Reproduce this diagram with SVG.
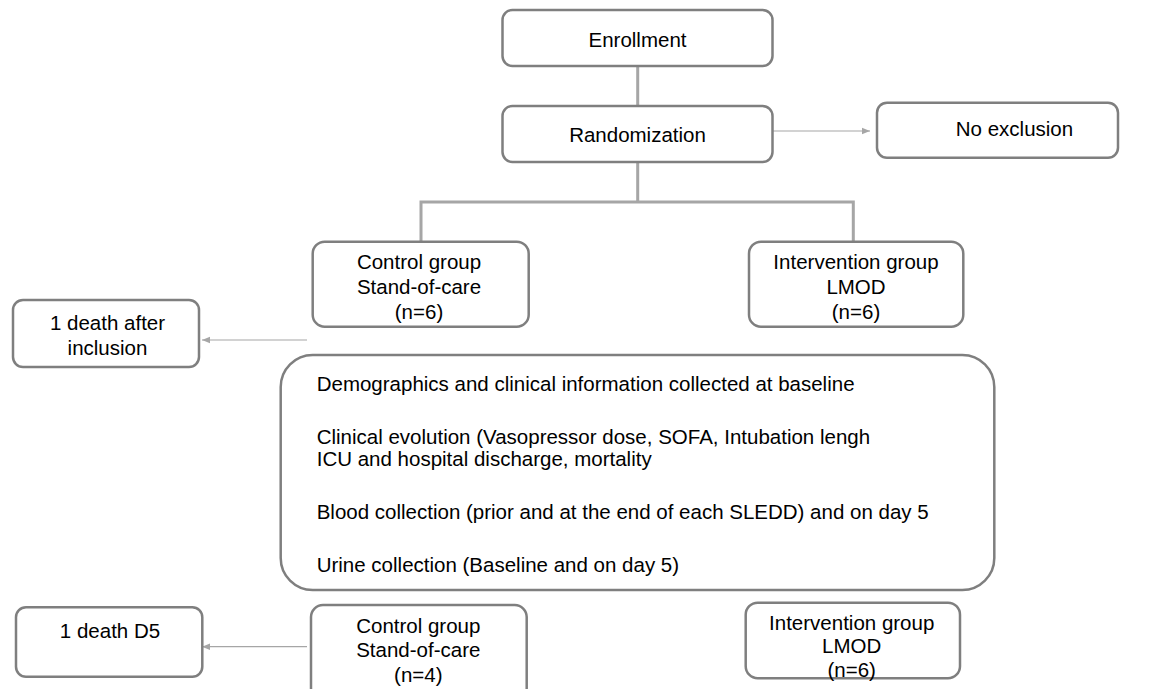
<svg xmlns="http://www.w3.org/2000/svg" width="1151" height="689" viewBox="0 0 1151 689">
<style>
.box{fill:#ffffff;stroke:#7f7f7f;stroke-width:2.5}
.t{font-family:"Liberation Sans",Arial,sans-serif;font-size:20.5px;fill:#000000}
.c{text-anchor:middle}
.thick{fill:none;stroke:#a6a6a6;stroke-width:3}
.thin{fill:none;stroke:#a6a6a6;stroke-width:1.2}
</style>
<defs>
<marker id="ah" viewBox="0 0 10 10" refX="10" refY="5" markerWidth="8" markerHeight="8" markerUnits="userSpaceOnUse" orient="auto">
<path d="M0,1 L10,5 L0,9 Z" fill="#a6a6a6"/>
</marker>
</defs>
<rect width="1151" height="689" fill="#ffffff"/>
<g id="connectors">
<line class="thick" x1="637.7" y1="66" x2="637.7" y2="106"/>
<path class="thick" d="M637.7,162 V202 M421,241.7 V202 H853.3 V241.7"/>
<line class="thin" x1="773" y1="131" x2="870" y2="131" marker-end="url(#ah)"/>
<line class="thin" x1="307" y1="340" x2="202" y2="340" marker-end="url(#ah)"/>
<line class="thin" x1="307" y1="646.7" x2="202" y2="646.7" marker-end="url(#ah)"/>
</g>
<g id="enrollment">
<rect class="box" x="502.5" y="10" width="270" height="56" rx="10"/>
<text class="t c" x="637.5" y="46.5">Enrollment</text>
</g>
<g id="randomization">
<rect class="box" x="502.5" y="106" width="270" height="56" rx="10"/>
<text class="t c" x="637.5" y="141.7">Randomization</text>
</g>
<g id="no-exclusion">
<rect class="box" x="877" y="102.7" width="241" height="55" rx="10"/>
<text class="t c" x="1014.5" y="136">No exclusion</text>
</g>
<g id="control1">
<rect class="box" x="312.7" y="241.7" width="216" height="85" rx="12"/>
<text class="t c" x="419" y="269.3">Control group</text>
<text class="t c" x="419" y="294">Stand-of-care</text>
<text class="t c" x="419" y="318.5">(n=6)</text>
</g>
<g id="intervention1">
<rect class="box" x="749" y="241.7" width="214.3" height="85" rx="12"/>
<text class="t c" x="856" y="269.3">Intervention group</text>
<text class="t c" x="856" y="294">LMOD</text>
<text class="t c" x="856" y="318.5">(n=6)</text>
</g>
<g id="death1">
<rect class="box" x="13" y="300" width="186" height="67" rx="10"/>
<text class="t c" x="107.5" y="330">1 death after</text>
<text class="t c" x="107.5" y="355">inclusion</text>
</g>
<g id="data">
<rect class="box" x="280.7" y="355" width="713.6" height="235" rx="32"/>
<text class="t" x="316.7" y="391">Demographics and clinical information collected at baseline</text>
<text class="t" x="316.7" y="444">Clinical evolution (Vasopressor dose, SOFA, Intubation lengh</text>
<text class="t" x="316.7" y="466">ICU and hospital discharge, mortality</text>
<text class="t" x="316.7" y="519">Blood collection (prior and at the end of each SLEDD) and on day 5</text>
<text class="t" x="316.7" y="572">Urine collection (Baseline and on day 5)</text>
</g>
<g id="death2">
<rect class="box" x="16" y="607.3" width="186.3" height="69.4" rx="10"/>
<text class="t c" x="110" y="638.3">1 death D5</text>
</g>
<g id="control2">
<rect class="box" x="311" y="605" width="215.7" height="95" rx="12"/>
<text class="t c" x="418.3" y="633.3">Control group</text>
<text class="t c" x="418.3" y="657.3">Stand-of-care</text>
<text class="t c" x="418.3" y="681.7">(n=4)</text>
</g>
<g id="intervention2">
<rect class="box" x="745.7" y="602.7" width="214.3" height="75.5" rx="12"/>
<text class="t c" x="851.7" y="629.5">Intervention group</text>
<text class="t c" x="851.7" y="653">LMOD</text>
<text class="t c" x="851.7" y="676.5">(n=6)</text>
</g>
</svg>
